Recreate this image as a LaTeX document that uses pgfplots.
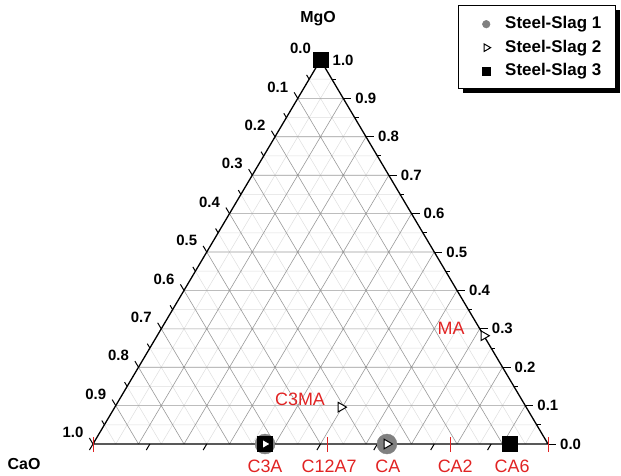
\documentclass[border=0pt]{standalone}
\usepackage{pgfplots}
\pgfplotsset{compat=1.18}
\usepackage{fontspec}
\setmainfont{Liberation Sans}
\definecolor{lab}{RGB}{225,35,35}
\definecolor{slagone}{RGB}{128,128,128}
\tikzset{tl/.style={font=\bfseries\fontsize{15}{17}\selectfont, inner sep=0pt},
         rl/.style={font=\fontsize{18}{20}\selectfont, text=lab, inner sep=0pt}}
\begin{document}
\begin{tikzpicture}
\begin{axis}[
  scale only axis, width=621bp, height=476bp,
  xmin=-0.2044, xmax=1.1604, ymin=-0.0833, ymax=1.15625,
  hide axis, clip=false, unbounded coords=jump,
  legend style={at={(axis cs:0.8440,1.1146)}, anchor=north west, draw=none, fill=none,
    inner sep=0pt, row sep=7.5bp,
    font=\bfseries\fontsize{17}{19}\selectfont,
    nodes={inner sep=0pt, text height=12.5bp, text depth=3.5bp}},
  legend cell align=left,
  legend image code/.code={\pgfpathrectangle{\pgfpoint{-9bp}{-6bp}}{\pgfpoint{28bp}{12bp}}\pgfusepath{discard}\draw[#1] plot coordinates {(0bp,0bp)};},
]
\path (rel axis cs:0,0) rectangle (rel axis cs:1,1);
% minor grid
\addplot[black!13, line width=0.5bp, forget plot] coordinates {
(0.025,0.05) (0.975,0.05) (nan,nan) (0.075,0.15) (0.925,0.15) (nan,nan)
(0.125,0.25) (0.875,0.25) (nan,nan) (0.175,0.35) (0.825,0.35) (nan,nan)
(0.225,0.45) (0.775,0.45) (nan,nan) (0.275,0.55) (0.725,0.55) (nan,nan)
(0.325,0.65) (0.675,0.65) (nan,nan) (0.375,0.75) (0.625,0.75) (nan,nan)
(0.425,0.85) (0.575,0.85) (nan,nan) (0.475,0.95) (0.525,0.95) (nan,nan)
(0.05,0) (0.025,0.05) (nan,nan) (0.15,0) (0.075,0.15) (nan,nan)
(0.25,0) (0.125,0.25) (nan,nan) (0.35,0) (0.175,0.35) (nan,nan)
(0.45,0) (0.225,0.45) (nan,nan) (0.55,0) (0.275,0.55) (nan,nan)
(0.65,0) (0.325,0.65) (nan,nan) (0.75,0) (0.375,0.75) (nan,nan)
(0.85,0) (0.425,0.85) (nan,nan) (0.95,0) (0.475,0.95) (nan,nan)
(0.05,0) (0.525,0.95) (nan,nan) (0.15,0) (0.575,0.85) (nan,nan)
(0.25,0) (0.625,0.75) (nan,nan) (0.35,0) (0.675,0.65) (nan,nan)
(0.45,0) (0.725,0.55) (nan,nan) (0.55,0) (0.775,0.45) (nan,nan)
(0.65,0) (0.825,0.35) (nan,nan) (0.75,0) (0.875,0.25) (nan,nan)
(0.85,0) (0.925,0.15) (nan,nan) (0.95,0) (0.975,0.05)
};
% major grid
\addplot[black!40, line width=0.6bp, forget plot] coordinates {
(0.05,0.1) (0.95,0.1) (nan,nan) (0.1,0.2) (0.9,0.2) (nan,nan)
(0.15,0.3) (0.85,0.3) (nan,nan) (0.2,0.4) (0.8,0.4) (nan,nan)
(0.25,0.5) (0.75,0.5) (nan,nan) (0.3,0.6) (0.7,0.6) (nan,nan)
(0.35,0.7) (0.65,0.7) (nan,nan) (0.4,0.8) (0.6,0.8) (nan,nan)
(0.45,0.9) (0.55,0.9) (nan,nan)
(0.1,0) (0.05,0.1) (nan,nan) (0.2,0) (0.1,0.2) (nan,nan)
(0.3,0) (0.15,0.3) (nan,nan) (0.4,0) (0.2,0.4) (nan,nan)
(0.5,0) (0.25,0.5) (nan,nan) (0.6,0) (0.3,0.6) (nan,nan)
(0.7,0) (0.35,0.7) (nan,nan) (0.8,0) (0.4,0.8) (nan,nan)
(0.9,0) (0.45,0.9) (nan,nan)
(0.1,0) (0.55,0.9) (nan,nan) (0.2,0) (0.6,0.8) (nan,nan)
(0.3,0) (0.65,0.7) (nan,nan) (0.4,0) (0.7,0.6) (nan,nan)
(0.5,0) (0.75,0.5) (nan,nan) (0.6,0) (0.8,0.4) (nan,nan)
(0.7,0) (0.85,0.3) (nan,nan) (0.8,0) (0.9,0.2) (nan,nan)
(0.9,0) (0.95,0.1)
};
% triangle edges
\addplot[black, line width=1.3bp, line join=miter, forget plot] coordinates {(0,0) (1,0) (0.5,1) (0,0)};
% right ticks (MgO)
\addplot[black, line width=1bp, forget plot] coordinates {
(1.0,0) (1.0176,0) (nan,nan) (0.95,0.1) (0.9676,0.1) (nan,nan)
(0.9,0.2) (0.9176,0.2) (nan,nan) (0.85,0.3) (0.8676,0.3) (nan,nan)
(0.8,0.4) (0.8176,0.4) (nan,nan) (0.75,0.5) (0.7676,0.5) (nan,nan)
(0.7,0.6) (0.7176,0.6) (nan,nan) (0.65,0.7) (0.6676,0.7) (nan,nan)
(0.6,0.8) (0.6176,0.8) (nan,nan) (0.55,0.9) (0.5676,0.9) (nan,nan)
(0.5,1) (0.5176,1) (nan,nan)
(0.975,0.05) (0.9838,0.05) (nan,nan) (0.925,0.15) (0.9338,0.15) (nan,nan)
(0.875,0.25) (0.8838,0.25) (nan,nan) (0.825,0.35) (0.8338,0.35) (nan,nan)
(0.775,0.45) (0.7838,0.45) (nan,nan) (0.725,0.55) (0.7338,0.55) (nan,nan)
(0.675,0.65) (0.6838,0.65) (nan,nan) (0.625,0.75) (0.6338,0.75) (nan,nan)
(0.575,0.85) (0.5838,0.85) (nan,nan) (0.525,0.95) (0.5338,0.95)
};
% left ticks (CaO)
\addplot[black, line width=1bp, forget plot] coordinates {
(0,0) (-0.0079,0.0157) (nan,nan) (0.05,0.1) (0.0421,0.1157) (nan,nan)
(0.1,0.2) (0.0921,0.2157) (nan,nan) (0.15,0.3) (0.1421,0.3157) (nan,nan)
(0.2,0.4) (0.1921,0.4157) (nan,nan) (0.25,0.5) (0.2421,0.5157) (nan,nan)
(0.3,0.6) (0.2921,0.6157) (nan,nan) (0.35,0.7) (0.3421,0.7157) (nan,nan)
(0.4,0.8) (0.3921,0.8157) (nan,nan) (0.45,0.9) (0.4421,0.9157) (nan,nan)
(0.5,1) (0.4921,1.0157) (nan,nan)
(0.025,0.05) (0.0194,0.0612) (nan,nan) (0.075,0.15) (0.0694,0.1612) (nan,nan)
(0.125,0.25) (0.1194,0.2612) (nan,nan) (0.175,0.35) (0.1694,0.3612) (nan,nan)
(0.225,0.45) (0.2194,0.4612) (nan,nan) (0.275,0.55) (0.2694,0.5612) (nan,nan)
(0.325,0.65) (0.3194,0.6612) (nan,nan) (0.375,0.75) (0.3694,0.7612) (nan,nan)
(0.425,0.85) (0.4194,0.8612) (nan,nan) (0.475,0.95) (0.4694,0.9612)
};
% bottom ticks
\addplot[black, line width=1bp, forget plot] coordinates {
(0,0) (-0.0079,-0.0157) (nan,nan)
(0.125,0) (0.1171,-0.0157) (nan,nan) (0.25,0) (0.2421,-0.0157) (nan,nan)
(0.375,0) (0.3671,-0.0157) (nan,nan) (0.5,0) (0.4921,-0.0157) (nan,nan)
(0.625,0) (0.6171,-0.0157) (nan,nan) (0.75,0) (0.7421,-0.0157) (nan,nan)
(0.875,0) (0.8671,-0.0157)
};
% red compound ticks
\addplot[lab, line width=1bp, forget plot] coordinates {
(0,0.0182) (0,-0.0208) (nan,nan) (0.378,0.0182) (0.378,-0.0208) (nan,nan)
(0.515,0.0182) (0.515,-0.0208) (nan,nan) (0.646,0.0182) (0.646,-0.0208) (nan,nan)
(0.785,0.0182) (0.785,-0.0208) (nan,nan) (0.916,0.0182) (0.916,-0.0208) (nan,nan)
(1,0.0182) (1,-0.0208)
};
% data
\addplot[only marks, mark=*, mark size=10bp, color=slagone, forget plot] coordinates {(0.378,0) (0.646,0)};
\addplot[only marks, mark=square*, mark size=7.5bp, black, forget plot] coordinates {(0.378,0) (0.916,0) (0.5,1)};
\addplot[only marks, mark=triangle*, mark size=5.5bp, mark options={rotate=-90, fill=white, draw=black, line width=1bp}, forget plot] coordinates {(0.378,0) (0.646,0) (0.545,0.096) (0.859,0.282)};
% legend frame with shadow
\fill[black] (axis cs:0.8132,1.1302) rectangle (axis cs:1.1583,0.9141);
\draw[black, fill=white, line width=0.8bp] (axis cs:0.8022,1.1432) rectangle (axis cs:1.1473,0.9271);
% legend
\addlegendimage{only marks, mark=*, mark size=3.8bp, color=slagone, line width=0.5bp}
\addlegendentry{Steel-Slag 1}
\addlegendimage{only marks, mark=triangle*, mark size=4.4bp, mark options={rotate=-90, fill=white, draw=black, line width=1bp}}
\addlegendentry{Steel-Slag 2}
\addlegendimage{only marks, mark=square*, mark size=3.8bp, black, line width=0.5bp}
\addlegendentry{Steel-Slag 3}
% axis labels
\node[tl, font=\bfseries\fontsize{16}{18}\selectfont] at (axis cs:0.4945,1.109) {MgO};
\node[tl, font=\bfseries\fontsize{16}{18}\selectfont] at (axis cs:-0.1516,-0.052) {CaO};
% left tick labels
\node[tl] at (axis cs:0.456,1.030) {0.0};
\node[tl] at (axis cs:0.406,0.930) {0.1};
\node[tl] at (axis cs:0.356,0.830) {0.2};
\node[tl] at (axis cs:0.306,0.730) {0.3};
\node[tl] at (axis cs:0.256,0.630) {0.4};
\node[tl] at (axis cs:0.206,0.530) {0.5};
\node[tl] at (axis cs:0.156,0.430) {0.6};
\node[tl] at (axis cs:0.106,0.330) {0.7};
\node[tl] at (axis cs:0.056,0.230) {0.8};
\node[tl] at (axis cs:0.006,0.130) {0.9};
\node[tl] at (axis cs:-0.044,0.030) {1.0};
% right tick labels
\node[tl, anchor=west] at (axis cs:1.0264,0) {0.0};
\node[tl, anchor=west] at (axis cs:0.9764,0.1) {0.1};
\node[tl, anchor=west] at (axis cs:0.9264,0.2) {0.2};
\node[tl, anchor=west] at (axis cs:0.8764,0.3) {0.3};
\node[tl, anchor=west] at (axis cs:0.8264,0.4) {0.4};
\node[tl, anchor=west] at (axis cs:0.7764,0.5) {0.5};
\node[tl, anchor=west] at (axis cs:0.7264,0.6) {0.6};
\node[tl, anchor=west] at (axis cs:0.6764,0.7) {0.7};
\node[tl, anchor=west] at (axis cs:0.6264,0.8) {0.8};
\node[tl, anchor=west] at (axis cs:0.5764,0.9) {0.9};
\node[tl, anchor=west] at (axis cs:0.5264,1.0) {1.0};
% compound labels
\node[rl] at (axis cs:0.378,-0.0573) {C3A};
\node[rl] at (axis cs:0.519,-0.0573) {C12A7};
\node[rl] at (axis cs:0.648,-0.0573) {CA};
\node[rl] at (axis cs:0.796,-0.0573) {CA2};
\node[rl] at (axis cs:0.921,-0.0573) {CA6};
\node[rl] at (axis cs:0.455,0.117) {C3MA};
\node[rl] at (axis cs:0.787,0.302) {MA};
\end{axis}
\end{tikzpicture}
\end{document}
